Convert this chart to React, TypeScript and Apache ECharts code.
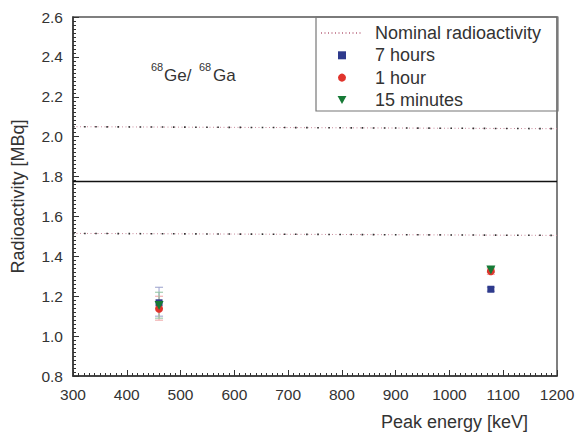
import React, { useEffect, useRef } from "react";
import * as echarts from "echarts";

// ---- data ----
const peakEnergy = [460, 1077];
const sevenHours = [1.167, 1.235];
const oneHour = [1.137, 1.325];
const fifteenMin = [1.153, 1.332];
const sevenHoursErr = [[1.1, 1.245], [1.225, 1.245]];
const oneHourErr = [[1.08, 1.2], [1.31, 1.34]];
const fifteenMinErr = [[1.09, 1.22], [1.32, 1.345]];
const nominalValue = 1.775;
const upperBound = [2.05, 2.04];
const lowerBound = [1.515, 1.505];
const xRange = [300, 1200];
const yRange = [0.8, 2.6];

const FONT = "'Liberation Sans', Arial, Helvetica, sans-serif";

function pairs(xs: number[], ys: number[]) {
  return xs.map((x, i) => [x, ys[i]]);
}

function errSeries(name: string, errs: number[][], color: string) {
  return {
    type: "custom",
    name: name + " err",
    data: peakEnergy.map((x, i) => [x, errs[i][0], errs[i][1]]),
    renderItem: (params: any, api: any) => {
      const lo = api.coord([api.value(0), api.value(1)]);
      const hi = api.coord([api.value(0), api.value(2)]);
      const w = 4;
      const style = { stroke: color, lineWidth: 1 };
      return {
        type: "group",
        children: [
          { type: "line", shape: { x1: lo[0], y1: lo[1], x2: hi[0], y2: hi[1] }, style },
          { type: "line", shape: { x1: lo[0] - w, y1: lo[1], x2: lo[0] + w, y2: lo[1] }, style },
          { type: "line", shape: { x1: hi[0] - w, y1: hi[1], x2: hi[0] + w, y2: hi[1] }, style },
        ],
      };
    },
    z: 2,
    silent: true,
  };
}

export default function App() {
  const ref = useRef<HTMLDivElement>(null);
  useEffect(() => {
    document.body.style.margin = "0";
    const chart = echarts.init(ref.current!, undefined, { renderer: "svg" });
    const navy = "#2e3a8c";
    const red = "#e0342c";
    const green = "#167a36";
    chart.setOption({
      animation: false,
      backgroundColor: "#ffffff",
      textStyle: { fontFamily: FONT },
      grid: {
        left: 73,
        top: 17,
        right: 26,
        bottom: 58,
        show: true,
        borderColor: "#555",
        borderWidth: 1.5,
        backgroundColor: "transparent",
      },
      xAxis: {
        type: "value",
        min: xRange[0],
        max: xRange[1],
        interval: 100,
        name: "Peak energy [keV]",
        nameLocation: "end",
        nameGap: -29,
        nameTextStyle: {
          fontSize: 18,
          color: "#333",
          align: "right",
          verticalAlign: "top",
          padding: [37, 0, 0, 0],
          fontFamily: FONT,
        },
        axisLine: { show: true, lineStyle: { color: "#333", width: 1.5 } },
        axisTick: { show: true, inside: true, length: 6, lineStyle: { color: "#333" } },
        minorTick: { show: true, splitNumber: 10, length: 3, lineStyle: { color: "#333" } },
        splitLine: { show: false },
        axisLabel: {
          fontSize: 15.5,
          color: "#333",
          margin: 10,
          fontFamily: FONT,
          formatter: (v: number) => String(v),
        },
      },
      yAxis: {
        type: "value",
        min: yRange[0],
        max: yRange[1],
        interval: 0.2,
        name: "Radioactivity [MBq]",
        nameLocation: "middle",
        nameGap: 46,
        nameTextStyle: { fontSize: 18, color: "#333", fontFamily: FONT },
        axisLine: { show: true, lineStyle: { color: "#333", width: 1.5 } },
        axisTick: { show: true, inside: true, length: 6, lineStyle: { color: "#333" } },
        minorTick: { show: true, splitNumber: 10, length: 3, lineStyle: { color: "#333" } },
        splitLine: { show: false },
        axisLabel: {
          fontSize: 15.5,
          color: "#333",
          margin: 10,
          fontFamily: FONT,
          formatter: (v: number) => v.toFixed(1),
        },
      },
      legend: {
        orient: "vertical",
        left: 320,
        top: 24,
        itemWidth: 42,
        itemHeight: 8,
        itemGap: 4.3,
        padding: 0,
        data: [
          { name: "Nominal radioactivity" },
          { name: "7 hours", icon: "path://M0,0h10v10h-10z" },
          { name: "1 hour", icon: "circle" },
          { name: "15 minutes", icon: "path://M0,0L10,0L5,9Z" },
        ],
        textStyle: {
          fontSize: 18,
          lineHeight: 18,
          color: "#333",
          fontFamily: FONT,
          padding: [0, 0, 0, 7],
        },
        selectedMode: false,
      },
      graphic: [
        {
          type: "rect",
          shape: { x: 316, y: 17, width: 242, height: 94 },
          style: { fill: "transparent", stroke: "#777", lineWidth: 1.2 },
          silent: true,
        },
        {
          type: "text",
          left: 151,
          top: 61,
          style: { text: "68", fontSize: 11, fill: "#333", fontFamily: FONT },
        },
        {
          type: "text",
          left: 164,
          top: 67,
          style: { text: "Ge/", fontSize: 17, fill: "#333", fontFamily: FONT },
        },
        {
          type: "text",
          left: 199,
          top: 61,
          style: { text: "68", fontSize: 11, fill: "#333", fontFamily: FONT },
        },
        {
          type: "text",
          left: 213,
          top: 67,
          style: { text: "Ga", fontSize: 17, fill: "#333", fontFamily: FONT },
        },
      ],
      series: [
        {
          type: "line",
          name: "Nominal radioactivity",
          data: pairs(xRange, upperBound),
          symbol: "none",
          itemStyle: { opacity: 0 },
          lineStyle: { color: "#c98a9c", width: 1, type: [1, 2.5] },
          z: 1,
        },
        {
          type: "line",
          name: "Nominal radioactivity",
          data: pairs(xRange, lowerBound),
          symbol: "none",
          itemStyle: { opacity: 0 },
          lineStyle: { color: "#c98a9c", width: 1, type: [1, 2.5] },
          z: 1,
        },
        {
          type: "line",
          name: "bound dots",
          data: pairs(xRange, upperBound),
          symbol: "none",
          lineStyle: { color: "#333", width: 1.6, type: [1.6, 9.5] },
          z: 1,
        },
        {
          type: "line",
          name: "bound dots",
          data: pairs(xRange, lowerBound),
          symbol: "none",
          lineStyle: { color: "#333", width: 1.6, type: [1.6, 9.5] },
          z: 1,
        },
        {
          type: "line",
          name: "Nominal value",
          data: pairs(xRange, [nominalValue, nominalValue]),
          symbol: "none",
          lineStyle: { color: "#111", width: 1.5 },
          z: 1,
        },
        errSeries("7 hours", sevenHoursErr, "#9aa0cc"),
        errSeries("1 hour", oneHourErr, "#eea0a0"),
        errSeries("15 minutes", fifteenMinErr, "#90c4a0"),
        {
          type: "scatter",
          name: "7 hours",
          data: pairs(peakEnergy, sevenHours),
          symbol: "rect",
          symbolSize: 7,
          itemStyle: { color: navy, opacity: 1 },
          z: 3,
        },
        {
          type: "scatter",
          name: "1 hour",
          data: pairs(peakEnergy, oneHour),
          symbol: "circle",
          symbolSize: 8,
          itemStyle: { color: red, opacity: 1 },
          z: 4,
        },
        {
          type: "scatter",
          name: "15 minutes",
          data: pairs(peakEnergy, fifteenMin),
          symbol: "triangle",
          symbolRotate: 180,
          symbolSize: 9,
          itemStyle: { color: green, opacity: 1 },
          z: 5,
        },
      ],
    });
    return () => chart.dispose();
  }, []);
  return (
    <div
      ref={ref}
      style={{ position: "absolute", left: 0, top: 0, width: 583, height: 434 }}
    />
  );
}
